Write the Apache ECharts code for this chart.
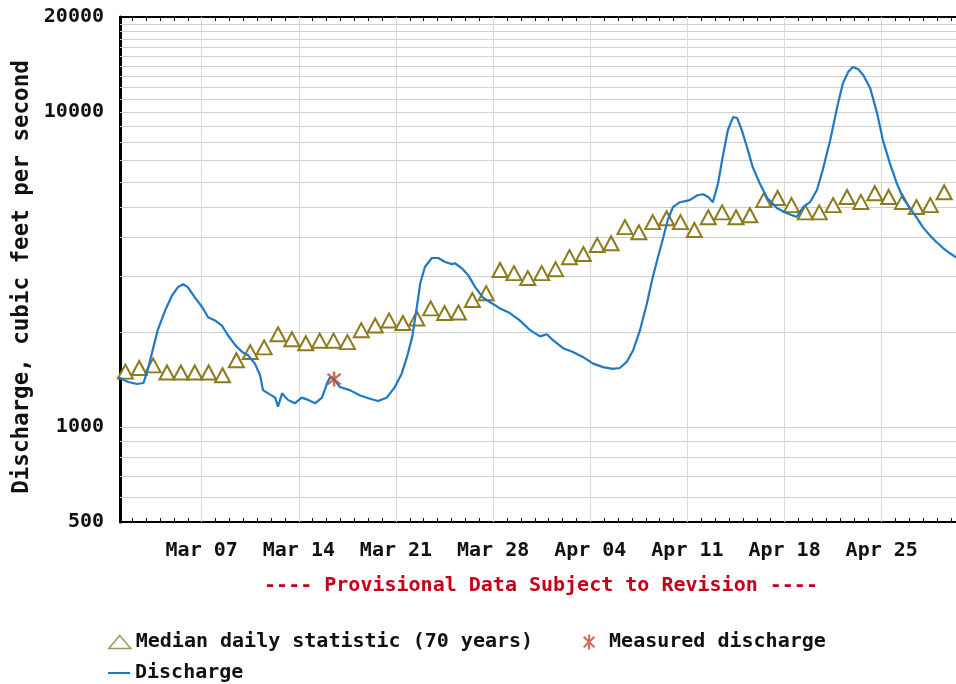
<!DOCTYPE html>
<html>
<head>
<meta charset="utf-8">
<script src="https://cdn.jsdelivr.net/npm/echarts@6/dist/echarts.min.js"></script>
<style>
  html, body { margin: 0; padding: 0; background: #fff; }
  #chart { width: 956px; height: 684px; }
</style>
</head>
<body>
<div id="chart"></div>
<script>
// discharge readings, 'MM-DD HH:mm' and cubic feet per second
const flowTimes = [
  '03-01 00:00', '03-01 17:00', '03-02 08:00', '03-02 19:00', '03-03 01:00', '03-03 10:00', '03-03 20:00',
  '03-04 09:00', '03-04 21:00', '03-05 07:00', '03-05 16:00', '03-06 00:00', '03-06 12:00', '03-07 01:00',
  '03-07 11:00', '03-07 23:00', '03-08 11:00', '03-08 21:00', '03-09 10:00', '03-09 22:00', '03-10 08:00',
  '03-10 20:00', '03-11 05:00', '03-11 10:00', '03-11 19:00', '03-12 07:00', '03-12 12:00', '03-12 19:00',
  '03-13 05:00', '03-13 17:00', '03-14 05:00', '03-14 16:00', '03-15 04:00', '03-15 16:00', '03-16 01:00',
  '03-16 06:00', '03-16 14:00', '03-16 23:00', '03-17 16:00', '03-18 10:00', '03-19 03:00', '03-19 17:00',
  '03-20 08:00', '03-20 22:00', '03-21 10:00', '03-21 19:00', '03-22 04:00', '03-22 12:00', '03-22 18:00',
  '03-23 02:00', '03-23 14:00', '03-24 01:00', '03-24 13:00', '03-25 01:00', '03-25 06:00', '03-25 18:00',
  '03-26 05:00', '03-26 17:00', '03-27 06:00', '03-27 19:00', '03-28 12:00', '03-29 05:00', '03-29 22:00',
  '03-30 16:00', '03-31 09:00', '03-31 21:00', '04-01 07:00', '04-02 01:00', '04-02 18:00', '04-03 11:00',
  '04-04 05:00', '04-04 22:00', '04-05 15:00', '04-06 03:00', '04-06 15:00', '04-07 02:00', '04-07 14:00',
  '04-08 02:00', '04-08 12:00', '04-08 21:00', '04-09 06:00', '04-09 14:00', '04-09 23:00', '04-10 11:00',
  '04-11 04:00', '04-11 17:00', '04-12 03:00', '04-12 12:00', '04-12 20:00', '04-13 05:00', '04-13 13:00',
  '04-13 22:00', '04-14 07:00', '04-14 10:00', '04-14 14:00', '04-14 22:00', '04-15 07:00', '04-15 17:00',
  '04-16 05:00', '04-16 18:00', '04-17 11:00', '04-18 04:00', '04-18 21:00', '04-19 08:00', '04-19 20:00',
  '04-20 08:00', '04-20 18:00', '04-21 07:00', '04-21 19:00', '04-22 05:00', '04-22 14:00', '04-22 22:00',
  '04-23 07:00', '04-23 16:00', '04-24 04:00', '04-24 16:00', '04-25 02:00', '04-25 14:00', '04-26 02:00',
  '04-26 13:00', '04-27 01:00', '04-27 13:00', '04-27 23:00', '04-28 11:00', '04-28 23:00', '04-29 10:00',
  '04-29 22:00', '04-30 08:00', '04-30 12:00'
]
const flowValues = [
  1440, 1390, 1370, 1380, 1480, 1720, 2030,
  2350, 2620, 2780, 2840, 2780, 2580, 2400,
  2230, 2180, 2100, 1960, 1820, 1730, 1690,
  1590, 1460, 1310, 1280, 1240, 1160, 1280,
  1220, 1190, 1240, 1220, 1190, 1240, 1380,
  1440, 1410, 1340, 1310, 1260, 1230, 1210,
  1240, 1340, 1480, 1670, 1930, 2400, 2860,
  3220, 3440, 3440, 3340, 3290, 3310, 3190,
  3030, 2780, 2580, 2490, 2380, 2300, 2180,
  2030, 1940, 1970, 1890, 1780, 1730, 1670,
  1590, 1550, 1530, 1540, 1610, 1750, 2030,
  2470, 2990, 3460, 3980, 4540, 4990, 5170,
  5250, 5440, 5480, 5370, 5170, 5940, 7190,
  8760, 9630, 9750, 9560, 8760, 7730, 6680,
  5940, 5330, 4950, 4770, 4640, 4990, 5170,
  5650, 6540, 8140, 10360, 12340, 13380, 13880,
  13680, 13090, 11900, 9910, 8140, 6880, 5940,
  5330, 4950, 4600, 4310, 4060, 3860, 3700,
  3560, 3460, 3420
]

// median daily statistic, one value per day from Mar 1 to Apr 30
const medianValues = [
  1500, 1540, 1570, 1490, 1490, 1490, 1490, 1460, 1630, 1730,
  1790, 1970, 1900, 1845, 1880, 1880, 1860, 2030, 2100, 2180,
  2140, 2210, 2380, 2300, 2310, 2530, 2660, 3150, 3080, 2970,
  3080, 3170, 3460, 3540, 3780, 3830, 4310, 4150, 4470, 4600,
  4470, 4220, 4630, 4800, 4630, 4700, 5250, 5330, 5060, 4800,
  4800, 5060, 5370, 5180, 5520, 5370, 5180, 4990, 5060, 5560,
  5400
]

// field measurement
const measuredTimes = ['03-16 13:00']
const measuredValues = [1420]

// axis labels and grid lines
const weekTicks = ['03-07', '03-14', '03-21', '03-28', '04-04', '04-11', '04-18', '04-25']
const yLabelValues = [500, 1000, 10000, 20000]
const gridValues = [
  600, 700, 800, 900, 1000, 2000, 3000, 4000, 5000, 6000, 7000, 8000, 9000,
  10000, 11000, 12000, 13000, 14000, 15000, 16000, 17000, 18000, 19000
]

const MONTHS = ['Jan', 'Feb', 'Mar', 'Apr', 'May', 'Jun', 'Jul', 'Aug', 'Sep', 'Oct', 'Nov', 'Dec']
const FONT = 'DejaVu Sans Mono'
const MEDIAN_NAME = 'Median daily statistic (70 years)'
const MEASURED_NAME = 'Measured discharge'
const FLOW_NAME = 'Discharge'

const ts = (s) => {
  const [d, t = '00:00'] = s.split(' ')
  const [mo, da] = d.split('-').map(Number)
  const [h, mi] = t.split(':').map(Number)
  return new Date(2019, mo - 1, da, h, mi).getTime()
}

const xMin = new Date(2019, 2, 1, 2, 44).getTime()
const xMax = new Date(2019, 3, 30, 8, 28).getTime()

const dayTicks = []
for (let d = 2; d <= 61; d++) {
  dayTicks.push(new Date(2019, 2, d).getTime())
}
const weekValues = weekTicks.map(t => ts(t))

const flowData = flowTimes.map((t, i) => [ts(t), flowValues[i]])
const medianData = medianValues.map((v, i) => [new Date(2019, 2, 1 + i, 12).getTime(), v])
const measuredData = measuredTimes.map((t, i) => [ts(t), measuredValues[i]])

// six-armed asterisk
const asterisk = 'path://M8.6,0h2.8v20h-2.8z M1.9,3.9L3.9,1.9L18.1,16.1L16.1,18.1z M16.1,1.9L18.1,3.9L3.9,18.1L1.9,16.1z'

const labelText = {
  fontFamily: FONT,
  fontWeight: 'bold',
  fontSize: 20,
  color: '#111'
}

const chart = echarts.init(document.getElementById('chart'))

chart.setOption({
  animation: false,
  backgroundColor: '#fff',
  grid: {
    left: 120,
    right: 0,
    top: 17,
    bottom: 162
  },
  xAxis: [
    {
      type: 'value',
      min: xMin,
      max: xMax,
      axisLine: { show: true, onZero: false, lineStyle: { color: '#000', width: 2 } },
      axisTick: {
        show: true,
        inside: true,
        length: 4,
        customValues: dayTicks,
        lineStyle: { color: '#000', width: 1 }
      },
      axisLabel: {
        customValues: weekValues,
        margin: 19,
        ...labelText,
        formatter: (v) => {
          const d = new Date(v)
          return MONTHS[d.getMonth()] + ' ' + String(d.getDate()).padStart(2, '0')
        }
      },
      splitLine: { show: false }
    },
    {
      type: 'value',
      position: 'top',
      min: xMin,
      max: xMax,
      axisLine: { show: true, onZero: false, lineStyle: { color: '#000', width: 2 } },
      axisTick: {
        show: true,
        inside: true,
        length: 4,
        customValues: dayTicks,
        lineStyle: { color: '#000', width: 1 }
      },
      axisLabel: { show: false },
      splitLine: { show: false }
    }
  ],
  yAxis: {
    type: 'log',
    logBase: 10,
    min: 500,
    max: 20000,
    axisLine: { show: true, onZero: false, lineStyle: { color: '#000', width: 3 } },
    axisTick: { show: false },
    axisLabel: {
      margin: 16,
      ...labelText,
      formatter: (v) => {
        const r = Math.round(v)
        return yLabelValues.includes(r) ? String(r) : ''
      }
    },
    splitLine: { show: false }
  },
  legend: [
    {
      data: [{
        name: MEDIAN_NAME,
        icon: 'triangle',
        itemStyle: { color: '#fff', borderColor: '#9f9860', borderWidth: 1.5 }
      }],
      left: 103,
      top: 627,
      itemWidth: 22,
      itemHeight: 13,
      selectedMode: false,
      textStyle: labelText
    },
    {
      data: [MEASURED_NAME],
      left: 578,
      top: 627,
      itemWidth: 30,
      itemHeight: 15,
      selectedMode: false,
      textStyle: labelText
    },
    {
      data: [{ name: FLOW_NAME, icon: 'rect' }],
      left: 103,
      top: 658,
      itemWidth: 22,
      itemHeight: 2,
      selectedMode: false,
      textStyle: labelText
    }
  ],
  graphic: [
    {
      type: 'text',
      x: 22,
      y: 277,
      rotation: Math.PI / 2,
      style: {
        text: 'Discharge, cubic feet per second',
        fontFamily: FONT,
        fontWeight: 'bold',
        fontSize: 22.5,
        fill: '#111',
        textAlign: 'center',
        textVerticalAlign: 'middle'
      }
    },
    {
      type: 'text',
      x: 541,
      y: 586,
      style: {
        text: '---- Provisional Data Subject to Revision ----',
        fontFamily: FONT,
        fontWeight: 'bold',
        fontSize: 20,
        fill: '#c4001a',
        textAlign: 'center',
        textVerticalAlign: 'middle'
      }
    }
  ],
  series: [
    {
      name: MEDIAN_NAME,
      type: 'scatter',
      data: medianData,
      symbol: 'triangle',
      symbolSize: [15, 14],
      itemStyle: { color: '#fff', borderColor: '#8c7a1c', borderWidth: 2, opacity: 1 },
      z: 2,
      markLine: {
        silent: true,
        symbol: 'none',
        z: 1,
        label: { show: false },
        lineStyle: { color: '#cfcfcf', width: 1, type: 'solid' },
        emphasis: { disabled: true },
        data: [
          ...gridValues.map(v => ({ yAxis: v })),
          ...weekValues.map(v => ({ xAxis: v, lineStyle: { color: '#d9d9d9' } }))
        ]
      }
    },
    {
      name: FLOW_NAME,
      type: 'line',
      data: flowData,
      symbol: 'none',
      lineStyle: { color: '#1f78c4', width: 2.2 },
      itemStyle: { color: '#1f78c4' },
      z: 3
    },
    {
      name: MEASURED_NAME,
      type: 'scatter',
      data: measuredData,
      symbol: asterisk,
      symbolSize: 15,
      itemStyle: { color: '#c04a30' },
      z: 4
    }
  ]
})
</script>
</body>
</html>
